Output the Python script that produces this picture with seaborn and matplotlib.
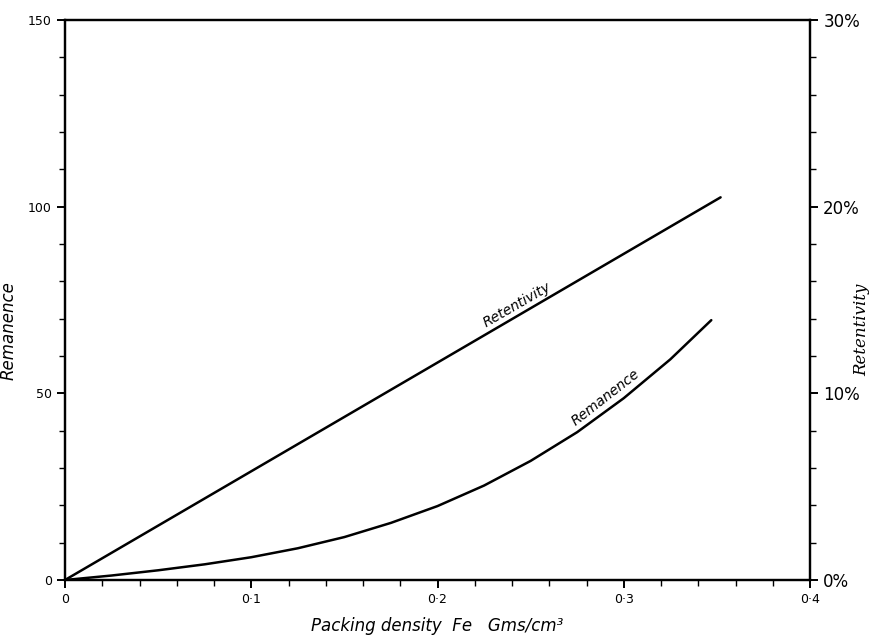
import matplotlib
matplotlib.use("Agg")
import matplotlib.pyplot as plt
from matplotlib.ticker import MultipleLocator, FixedLocator
import seaborn as sns
import pandas as pd

# Packing density of Fe (g/cm^3) and measured remanence
density_rem = [0.0, 0.025, 0.05, 0.075, 0.1, 0.125, 0.15, 0.175, 0.2,
               0.225, 0.25, 0.275, 0.3, 0.325, 0.347]
remanence = [0.0, 1.2, 2.6, 4.2, 6.1, 8.5, 11.5, 15.3, 19.8,
             25.3, 31.9, 39.6, 48.7, 59.1, 69.6]

# Retentivity (%) rises linearly with packing density
density_ret = [0.0, 0.352]
retentivity = [0.0, 20.5]

x_ticks = [0.0, 0.1, 0.2, 0.3, 0.4]
x_tick_labels = ["0", "0·1", "0·2", "0·3", "0·4"]
left_ticks = [0, 50, 100, 150]
left_tick_labels = ["0", "50", "100", "150"]
right_ticks = [0, 10, 20, 30]
right_tick_labels = ["0%", "10%", "20%", "30%"]

sns.set_style("ticks")
plt.rcParams["font.family"] = ["DejaVu Sans"]
plt.rcParams["text.color"] = "black"
plt.rcParams["axes.labelcolor"] = "black"

fig = plt.figure(figsize=(8.75, 6.4), dpi=100)
ax = fig.add_axes([65 / 875, 60 / 640, 745 / 875, 560 / 640])
ax2 = ax.twinx()

rem_df = pd.DataFrame({"density": density_rem, "value": remanence})
ret_df = pd.DataFrame({"density": density_ret, "value": retentivity})

sns.lineplot(data=rem_df, x="density", y="value", ax=ax, color="black", linewidth=1.8)
sns.lineplot(data=ret_df, x="density", y="value", ax=ax2, color="black", linewidth=1.8)

ax.set_xlim(0, 0.4)
ax.set_ylim(0, 150)
ax2.set_ylim(0, 30)

ax.xaxis.set_major_locator(FixedLocator(x_ticks))
ax.set_xticklabels(x_tick_labels)
ax.xaxis.set_minor_locator(MultipleLocator(0.02))
ax.yaxis.set_major_locator(FixedLocator(left_ticks))
ax.set_yticklabels(left_tick_labels)
ax.yaxis.set_minor_locator(MultipleLocator(10))
ax2.yaxis.set_major_locator(FixedLocator(right_ticks))
ax2.set_yticklabels(right_tick_labels)
ax2.yaxis.set_minor_locator(MultipleLocator(2))

for a in (ax, ax2):
    for s in a.spines.values():
        s.set_visible(True)
        s.set_linewidth(1.6)
        s.set_color("black")
    a.tick_params(which="major", direction="out", length=6, width=1.4, colors="black", labelsize=9)
    a.tick_params(which="minor", direction="out", length=4, width=1.0, colors="black")

ax2.tick_params(axis="y", labelsize=12)

ax.set_xlabel("Packing density  Fe   Gms/cm³", fontsize=12, style="italic", labelpad=8)
ax.set_ylabel("Remanence", fontsize=12, style="italic")
ax.yaxis.set_label_coords(-0.064, 0.446)
ax2.set_ylabel("Retentivity", fontsize=12, style="italic", rotation=90,
               family=["DejaVu Serif"])
ax2.yaxis.set_label_coords(1.058, 0.446)

# curve labels written along the lines
ax.text(0.2427, 73.7, "Retentivity", fontsize=10, style="italic", rotation=30,
        ha="center", va="center", rotation_mode="anchor", color="black")
ax.text(0.2905, 49.0, "Remanence", fontsize=10, style="italic", rotation=38,
        ha="center", va="center", rotation_mode="anchor", color="black")

fig.savefig("out.png", dpi=100)
